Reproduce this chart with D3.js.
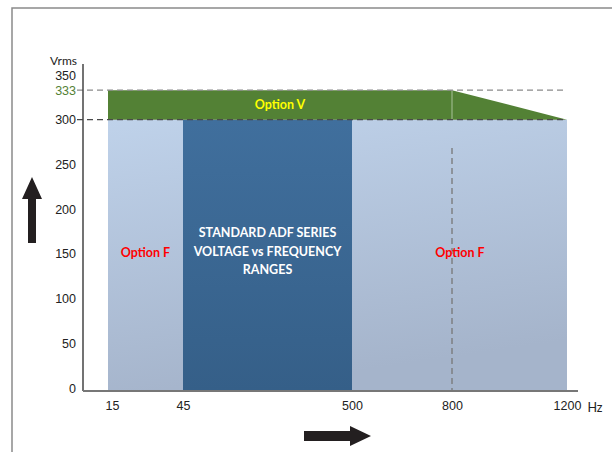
<!DOCTYPE html>
<html lang="en">
<head>
  <meta charset="UTF-8">
  <title>Standard ADF series voltage vs frequency ranges</title>
  <script src="https://d3js.org/d3.v7.min.js"></script>
  <style>
    html, body {
      margin: 0;
      padding: 0;
      background: #fff;
      overflow: hidden;
      font-family: Lato, "Open Sans", sans-serif;
    }
    svg {
      display: block;
    }
    .tick text {
      font-size: 12.5px;
      fill: #222;
    }
  </style>
</head>
<body>
  <svg width="612" height="452"></svg>

  <script>
    // data
    const freqTicks = [15, 45, 500, 800, 1200];
    const voltTicks = [0, 50, 100, 150, 200, 250, 300, 333, 350];
    const optionF = { from: 15, to: 1200, volts: 300 };
    const standard = { from: 45, to: 500, volts: 300 };
    const optionV = [[15, 333], [800, 333], [1200, 300]];
    const optionVBase = 300;
    const marker800 = 800;
    const fLabels = [{ f: 15, to: 45, text: "Option F" }, { f: 500, to: 1200, text: "Option F" }];
    const standardLines = ["STANDARD ADF SERIES", "VOLTAGE vs FREQUENCY", "RANGES"];

    const svg = d3.select("svg");
    const axisY = 391;

    // frequency axis is schematic, not linear
    const x = d3.scaleLinear()
      .domain(freqTicks)
      .range([108, 183, 352, 452, 567]);
    const y = d3.scaleLinear().domain([0, 350]).range([388, 75]);

    const defs = svg.append("defs");
    const g1 = defs.append("linearGradient").attr("id", "lightFill")
      .attr("x1", 0).attr("y1", 0).attr("x2", 0.25).attr("y2", 1);
    g1.append("stop").attr("offset", "0%").attr("stop-color", "#bfd2ea");
    g1.append("stop").attr("offset", "100%").attr("stop-color", "#a5b4cb");
    const g2 = defs.append("linearGradient").attr("id", "darkFill")
      .attr("x1", 0).attr("y1", 0).attr("x2", 0).attr("y2", 1);
    g2.append("stop").attr("offset", "0%").attr("stop-color", "#406f9d");
    g2.append("stop").attr("offset", "100%").attr("stop-color", "#355f88");

    // outer frame (left + top)
    svg.append("path")
      .attr("d", "M12,452 L12,8 L612,8")
      .attr("fill", "none")
      .attr("stroke", "#8a8a8a")
      .attr("stroke-width", 1.5);

    // option F (light) range
    svg.append("rect")
      .attr("x", x(optionF.from))
      .attr("y", y(optionF.volts))
      .attr("width", x(optionF.to) - x(optionF.from))
      .attr("height", axisY - y(optionF.volts))
      .attr("fill", "url(#lightFill)");

    // standard range
    svg.append("rect")
      .attr("x", x(standard.from))
      .attr("y", y(standard.volts))
      .attr("width", x(standard.to) - x(standard.from))
      .attr("height", axisY - y(standard.volts))
      .attr("fill", "url(#darkFill)");

    // option V band
    const area = d3.area()
      .x(d => x(d[0]))
      .y0(y(optionVBase))
      .y1(d => y(d[1]));
    svg.append("path")
      .attr("d", area(optionV))
      .attr("fill", "#538135");

    // thin light separator at 800 inside the green band
    svg.append("line")
      .attr("x1", x(marker800)).attr("x2", x(marker800))
      .attr("y1", y(333)).attr("y2", y(optionVBase))
      .attr("stroke", "#a9c29a")
      .attr("stroke-width", 1);

    // dashed reference lines
    svg.append("line")
      .attr("x1", 77).attr("x2", x(1200))
      .attr("y1", y(333)).attr("y2", y(333))
      .attr("stroke", "#8a8a8a")
      .attr("stroke-width", 1.3)
      .attr("stroke-dasharray", "6,4");
    svg.append("line")
      .attr("x1", 77).attr("x2", x(1200))
      .attr("y1", y(300)).attr("y2", y(300))
      .attr("stroke", "#4a4a4a")
      .attr("stroke-width", 1.3)
      .attr("stroke-dasharray", "6,4");
    svg.append("line")
      .attr("x1", x(marker800)).attr("x2", x(marker800))
      .attr("y1", 148).attr("y2", axisY)
      .attr("stroke", "#777")
      .attr("stroke-width", 1.3)
      .attr("stroke-dasharray", "6,4");

    // labels inside
    svg.append("text")
      .attr("x", (x(15) + x(800)) / 2)
      .attr("y", (y(333) + y(300)) / 2 + 4.5)
      .attr("text-anchor", "middle")
      .attr("font-size", 12.5)
      .attr("font-weight", "bold")
      .attr("fill", "#ffff00")
      .text("Option V");

    svg.selectAll(".optF")
      .data(fLabels)
      .enter().append("text")
      .attr("class", "optF")
      .attr("x", (d, i) => i === 0 ? (x(d.f) + x(d.to)) / 2 : x(800) + 8)
      .attr("y", 257)
      .attr("text-anchor", "middle")
      .attr("font-size", 12.5)
      .attr("font-weight", "bold")
      .attr("fill", "#ff0000")
      .text(d => d.text);

    svg.selectAll(".std")
      .data(standardLines)
      .enter().append("text")
      .attr("class", "std")
      .attr("x", (x(standard.from) + x(standard.to)) / 2)
      .attr("y", (d, i) => 237 + i * 18.5)
      .attr("text-anchor", "middle")
      .attr("font-size", 12.5)
      .attr("font-weight", "bold")
      .attr("fill", "#ffffff")
      .text(d => d);

    // y axis
    const yAxis = svg.append("g")
      .attr("transform", "translate(83,0)")
      .call(d3.axisLeft(y).tickValues(voltTicks).tickSize(0).tickPadding(7));
    yAxis.select(".domain").remove();
    yAxis.selectAll(".tick text")
      .filter(d => d === 333)
      .style("fill", "#538135");
    svg.append("line")
      .attr("x1", 83).attr("x2", 83)
      .attr("y1", 64).attr("y2", axisY)
      .attr("stroke", "#444")
      .attr("stroke-width", 1.5);
    svg.append("text")
      .attr("x", 77).attr("y", 65)
      .attr("text-anchor", "end")
      .attr("font-size", 12)
      .attr("fill", "#222")
      .text("Vrms");

    // x axis
    const xAxis = svg.append("g")
      .attr("transform", `translate(0,${axisY})`)
      .call(d3.axisBottom(x).tickValues(freqTicks).tickSize(0).tickPadding(10).tickFormat(d3.format("d")));
    xAxis.select(".domain").remove();
    xAxis.selectAll(".tick text").filter(d => d === 15).attr("dx", 4);
    svg.append("line")
      .attr("x1", 83).attr("x2", 578)
      .attr("y1", axisY).attr("y2", axisY)
      .attr("stroke", "#777")
      .attr("stroke-width", 2);
    svg.append("text")
      .attr("x", 595).attr("y", 412)
      .attr("text-anchor", "middle")
      .attr("font-size", 12.5)
      .attr("fill", "#222")
      .text("Hz");

    // direction arrows
    svg.append("path")
      .attr("d", "M28,243 L28,199 L22,199 L32,177 L42,199 L36,199 L36,243 Z")
      .attr("fill", "#231f20");
    svg.append("path")
      .attr("d", "M304,431 L350,431 L350,426 L371,436 L350,446 L350,441 L304,441 Z")
      .attr("fill", "#231f20");
  </script>
</body>
</html>
